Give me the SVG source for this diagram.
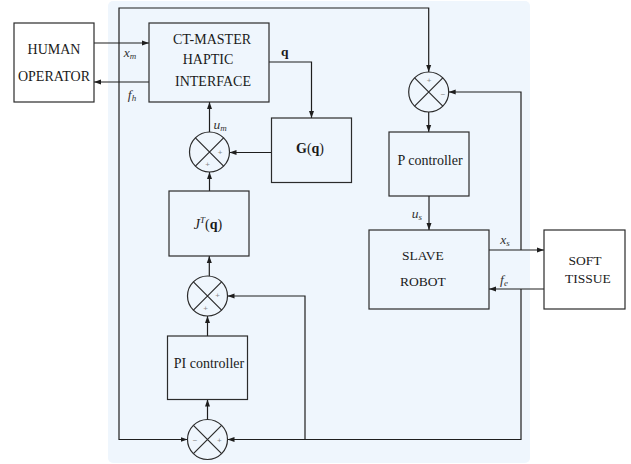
<svg xmlns="http://www.w3.org/2000/svg" width="631" height="464" viewBox="0 0 631 464">
<style>
.box{fill:none;stroke:#2b2b2b;stroke-width:1.2}
.sum{fill:none;stroke:#2b2b2b;stroke-width:1.2}
.ln{fill:none;stroke:#1e1e1e;stroke-width:1.2}
.lbl{font-family:"Liberation Serif",serif;font-size:14px;fill:#1a1a1a;text-anchor:middle}
.lbl2{font-family:"Liberation Serif",serif;font-size:13.5px;fill:#1a1a1a;text-anchor:middle}
.math{font-family:"Liberation Serif",serif;font-size:13.5px;font-style:italic;fill:#333;text-anchor:middle}
.sub{font-size:9px}
.sign{font-family:"Liberation Sans",sans-serif;font-size:8px;fill:#888;text-anchor:middle;dominant-baseline:central}
.bold{font-family:"Liberation Serif",serif;font-weight:bold;font-size:13.5px;fill:#1a1a1a}
</style>
<defs>
<marker id="ar" markerUnits="userSpaceOnUse" markerWidth="8" markerHeight="6" refX="7" refY="3" orient="auto">
<path d="M0,0.5 L7,3 L0,5.5 Z" fill="#1e1e1e"/>
</marker>
</defs>
<rect x="108" y="1" width="422" height="462" rx="5" fill="#eff6fd"/>

<g id="connectors">
<path class="ln" d="M94,43 H149" marker-end="url(#ar)"/>
<path class="ln" d="M149,82 H94" marker-end="url(#ar)"/>
<path class="ln" d="M119,43 V8 H428.7 V72" marker-end="url(#ar)"/>
<path class="ln" d="M119,43 V439.5 H187.5" marker-end="url(#ar)"/>
<path class="ln" d="M269,62 H311.5 V118" marker-end="url(#ar)"/>
<path class="ln" d="M271.5,152.5 H229.5" marker-end="url(#ar)"/>
<path class="ln" d="M209.5,132 V102" marker-end="url(#ar)"/>
<path class="ln" d="M209.5,191 V172" marker-end="url(#ar)"/>
<path class="ln" d="M209.3,276 V256" marker-end="url(#ar)"/>
<path class="ln" d="M207.5,336 V316" marker-end="url(#ar)"/>
<path class="ln" d="M207.5,419.5 V399.5" marker-end="url(#ar)"/>
<path class="ln" d="M305,439.5 V296 H227.5" marker-end="url(#ar)"/>
<path class="ln" d="M489,250 H544" marker-end="url(#ar)"/>
<path class="ln" d="M544,289 H489" marker-end="url(#ar)"/>
<path class="ln" d="M521,250 V92 H448.7" marker-end="url(#ar)"/>
<path class="ln" d="M521,289 V439.5 H227.5" marker-end="url(#ar)"/>
<path class="ln" d="M428.7,112 V132" marker-end="url(#ar)"/>
<path class="ln" d="M429,196 V230" marker-end="url(#ar)"/>
</g>

<g id="human">
<rect class="box" x="14" y="23" width="80" height="79"/>
<text class="lbl" x="54" y="54">HUMAN</text>
<text class="lbl" x="54" y="81">OPERATOR</text>
</g>

<g id="master">
<rect class="box" x="149" y="23" width="120" height="79"/>
<text class="lbl" x="212" y="44">CT-MASTER</text>
<text class="lbl" x="208" y="64">HAPTIC</text>
<text class="lbl" x="213" y="86">INTERFACE</text>
</g>

<g id="gq">
<rect class="box" x="271.5" y="118" width="80" height="64.5"/>
<text x="310" y="153" style="font-family:'Liberation Serif',serif;font-size:14px;fill:#1a1a1a;text-anchor:middle"><tspan font-weight="bold">G</tspan>(<tspan font-weight="bold">q</tspan>)</text>
</g>

<g id="jacobian">
<rect class="box" x="169" y="191" width="80" height="65"/>
<text x="208" y="229" style="font-family:'Liberation Serif',serif;font-size:14px;fill:#1a1a1a;text-anchor:middle"><tspan font-style="italic">J</tspan><tspan font-style="italic" font-size="9" dy="-6">T</tspan><tspan dy="6">(</tspan><tspan font-weight="bold">q</tspan>)</text>
</g>

<g id="pi">
<rect class="box" x="167.5" y="336" width="80" height="63.5"/>
<text class="lbl" x="209" y="368">PI controller</text>
</g>

<g id="pctrl">
<rect class="box" x="389" y="132" width="80" height="64"/>
<text class="lbl" x="430" y="165">P controller</text>
</g>

<g id="slave">
<rect class="box" x="369" y="230" width="120" height="79"/>
<text class="lbl2" x="423" y="260">SLAVE</text>
<text class="lbl2" x="423" y="286">ROBOT</text>
</g>

<g id="tissue">
<rect class="box" x="544" y="230" width="81" height="79"/>
<text class="lbl2" x="585" y="265">SOFT</text>
<text class="lbl2" x="588" y="283">TISSUE</text>
</g>

<g id="sum1">
<circle class="sum" cx="209.5" cy="152" r="20"/>
<path class="sum" d="M195.4,137.9 L223.6,166.1 M223.6,137.9 L195.4,166.1"/>
<text class="sign" x="220" y="152.5">+</text>
<text class="sign" x="207.7" y="164">+</text>
</g>

<g id="sum2">
<circle class="sum" cx="207.5" cy="296" r="20"/>
<path class="sum" d="M193.4,281.9 L221.6,310.1 M221.6,281.9 L193.4,310.1"/>
<text class="sign" x="217.7" y="295.7">+</text>
<text class="sign" x="205.7" y="308.3">+</text>
</g>

<g id="sum3">
<circle class="sum" cx="207.5" cy="439.5" r="20"/>
<path class="sum" d="M193.4,425.4 L221.6,453.6 M221.6,425.4 L193.4,453.6"/>
<text class="sign" x="195" y="440.5">−</text>
<text class="sign" x="219.3" y="440.5">+</text>
</g>

<g id="sumR">
<circle class="sum" cx="428.7" cy="92" r="20"/>
<path class="sum" d="M414.6,77.9 L442.8,106.1 M442.8,77.9 L414.6,106.1"/>
<text class="sign" x="429" y="80">+</text>
<text class="sign" x="443" y="94.3">−</text>
</g>

<g id="labels">
<text class="math" x="130" y="57">x<tspan class="sub" dy="2">m</tspan></text>
<text class="math" x="132" y="99">f<tspan class="sub" dy="2">h</tspan></text>
<text class="bold" x="281" y="56">q</text>
<text class="math" x="220" y="129">u<tspan class="sub" dy="2">m</tspan></text>
<text class="math" x="417" y="218">u<tspan class="sub" dy="2">s</tspan></text>
<text class="math" x="505" y="244">x<tspan class="sub" dy="2">s</tspan></text>
<text class="math" x="504" y="284">f<tspan class="sub" dy="2">e</tspan></text>
</g>
</svg>
